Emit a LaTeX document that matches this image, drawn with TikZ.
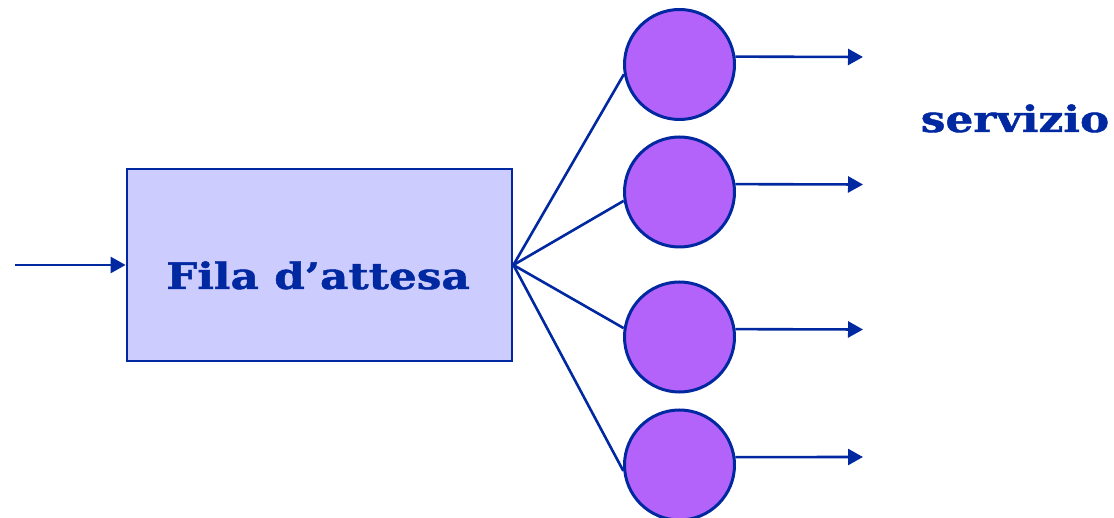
\documentclass[tikz,border=0pt]{standalone}
\usepackage{fontspec}
\setmainfont{DejaVu Serif}
\newfontfamily\bkfont[FakeStretch=1.2,FakeBold=1.2]{DejaVu Serif Bold}
\usetikzlibrary{arrows.meta}
\definecolor{ink}{HTML}{0028A0}
\definecolor{boxfill}{HTML}{CCCCFF}
\definecolor{srvfill}{HTML}{B463FA}
\tikzset{
  queuebox/.style={draw=ink, line width=2.8pt, fill=boxfill, minimum width=385pt, minimum height=192pt, inner sep=0pt},
  server/.style={circle, draw=ink, line width=3pt, fill=srvfill, minimum size=110pt, inner sep=0pt},
  conn/.style={draw=ink, line width=2.6pt},
  arr/.style={conn, -{Triangle[length=15pt,width=16pt]}},
  lbl/.style={text=ink, font=\bkfont\fontsize{36.5}{44}\selectfont, inner sep=0pt, anchor=base}
}
\begin{document}
\begin{tikzpicture}[x=1pt,y=-1pt]
\useasboundingbox (0,0) rectangle (1114,518);
\node[queuebox] (box) at (319.5,265) {};
\node[lbl] (fila) at (318,289) {Fila d’attesa};
\node[server] (c1) at (679.5,64.5) {};
\node[server] (c2) at (679.5,192) {};
\node[server] (c3) at (679.5,337) {};
\node[server] (c4) at (679.5,465) {};
\node[lbl] (serv) at (1015,132) {servizio};
\coordinate (in) at (15,265);
\coordinate (e1) at (863,57);
\coordinate (e2) at (863,184.5);
\coordinate (e3) at (863,329.5);
\coordinate (e4) at (863,457);
\draw[arr] (in) -- (box.west);
\draw[conn] (box.east) -- (c1.190.5);
\draw[conn] (box.east) -- (c2.189);
\draw[conn] (box.east) -- (c3.171.5);
\draw[conn] (box.east) -- (c4.186);
\draw[arr] (c1.8) -- (e1);
\draw[arr] (c2.8) -- (e2);
\draw[arr] (c3.8) -- (e3);
\draw[arr] (c4.8) -- (e4);
\end{tikzpicture}
\end{document}
